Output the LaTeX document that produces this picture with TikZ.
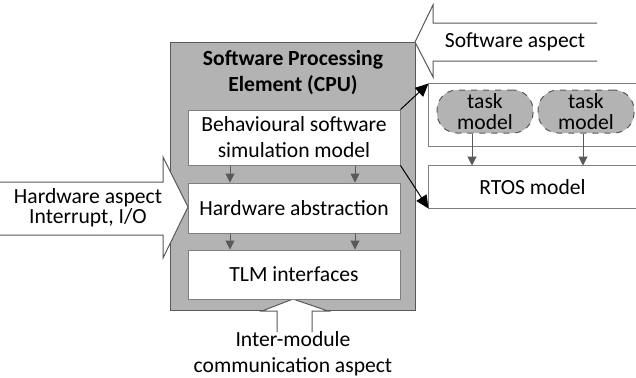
\documentclass[tikz,border=0pt]{standalone}
\usepackage{fontspec}
\setmainfont{Carlito}
\usetikzlibrary{arrows.meta}
\definecolor{cpugray}{HTML}{B3B3B3}
\definecolor{edgegray}{HTML}{7F7F7F}
\definecolor{darkedge}{HTML}{595959}
\tikzstyle{block} = [rectangle, draw=edgegray, fill=white, text centered, minimum width=106pt, inner sep=0pt]
\tikzstyle{task} = [rectangle, draw=darkedge, dashed, fill=cpugray, rounded corners=10pt, align=center, minimum width=48pt, minimum height=21.5pt, inner sep=0pt, font=\fontsize{10.8}{10.5}\selectfont]
\tikzstyle{aspect} = [draw=darkedge]
\tikzstyle{flow} = [-{Triangle[length=4.5pt,width=4.5pt]}, darkedge]
\tikzstyle{link} = [-{Triangle[length=6.5pt,width=6pt]}, black]

\begin{document}
\begin{tikzpicture}[x=0.5pt, y=-0.5pt, line width=0.5pt, font=\fontsize{10.8}{13}\selectfont]
\useasboundingbox (0,0) rectangle (636,377);

\node[draw=darkedge, fill=cpugray, minimum width=122.5pt, minimum height=134pt, inner sep=0pt] (cpu) at (292.5,176) {};
\node[font=\fontsize{10.8}{13}\selectfont\bfseries, align=center] (title) at (293,73) {Software Processing\\Element (CPU)};

% aspects
\fill[white] (597,23) -- (433,23) -- (433,5) -- (415,42) -- (433,77) -- (433,61) -- (597,61) -- cycle;
\draw[aspect] (597,23) -- (433,23) -- (433,5) -- (415,42) -- (433,77) -- (433,61) -- (597,61);
\node (sw) at (515,42) {Software aspect};

\fill[white] (0,182) -- (163,182) -- (163,157) -- (188,207) -- (163,258) -- (163,235) -- (0,235) -- cycle;
\draw[aspect] (0,182) -- (163,182) -- (163,157) -- (188,207) -- (163,258) -- (163,235) -- (0,235);
\node[align=center, font=\fontsize{10.8}{10}\selectfont] (hwasp) at (88,208) {Hardware aspect\\Interrupt, I/O};

\fill[white] (277,332) -- (277,311) -- (262,311) -- (293,299) -- (328,311) -- (312,311) -- (312,332) -- cycle;
\draw[aspect] (277,332) -- (277,311) -- (262,311) -- (293,299) -- (328,311) -- (312,311) -- (312,332);
\node[align=center] (comm) at (293,354) {Inter-module\\communication aspect};

% blocks inside the CPU
\node[block, minimum height=27.5pt, align=center] (beh) at (294,137.5) {Behavioural software\\simulation model};
\node[block, minimum height=25pt] (hw) at (294,208) {Hardware abstraction};
\node[block, minimum height=24.5pt] (tlm) at (294,274.5) {TLM interfaces};

\foreach \dx in {-32pt,30.5pt} {
  \draw[flow] ([xshift=\dx]beh.south) -- ([xshift=\dx]hw.north);
  \draw[flow] ([xshift=\dx]hw.south) -- ([xshift=\dx]tlm.north);
}

% software side
\node[minimum width=103.5pt, minimum height=31pt, inner sep=0pt] (tasks) at (532.5,115) {};
\draw[edgegray] (tasks.north east) -- (tasks.north west) -- (tasks.south west) -- (tasks.south east);
\node[task] (tm1) at (485,111.5) {task\\model};
\node[task] (tm2) at (586,111.5) {task\\model};

\node[minimum width=103.5pt, minimum height=21pt, inner sep=0pt] (rtos) at (532.5,187) {RTOS model};
\draw[edgegray] (rtos.north east) -- (rtos.north west) -- (rtos.south west) -- (rtos.south east);

\draw[flow] ([xshift=-6.5pt]tm1.south) -- ([xshift=-6.5pt]tm1.south |- rtos.north);
\draw[flow] ([xshift=-1.5pt]tm2.south) -- ([xshift=-1.5pt]tm2.south |- rtos.north);

\draw[link] (beh.north east) -- (tasks.north west);
\draw[link] (beh.south east) -- (rtos.south west);

\end{tikzpicture}
\end{document}
